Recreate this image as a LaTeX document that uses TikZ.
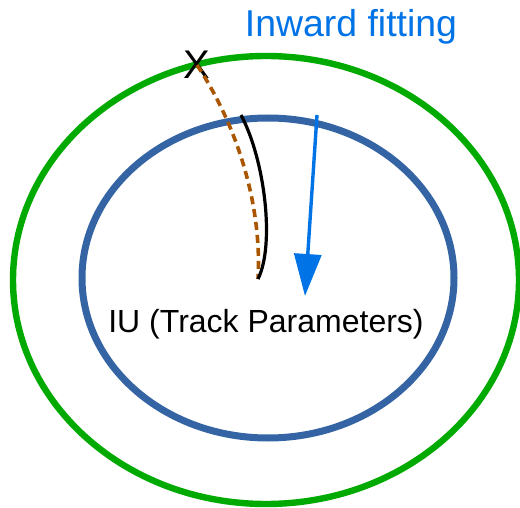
\documentclass[tikz,border=0pt]{standalone}
\usepackage{fontspec}
\setmainfont{Liberation Sans}
\usepackage{tikz}
\usetikzlibrary{arrows.meta}
\usepackage{xcolor}
\definecolor{mygreen}{RGB}{0,170,0}
\definecolor{myblue}{RGB}{52,100,164}
\definecolor{mylight}{RGB}{0,115,230}
\definecolor{mybrown}{RGB}{170,85,0}

\begin{document}
\begin{tikzpicture}[x=0.5pt,y=-0.5pt]
  \useasboundingbox (0,0) rectangle (520,508);
  % detector layers
  \draw[line width=3.2pt,mygreen] (266,280) ellipse [x radius=253, y radius=224];
  \draw[line width=3.5pt,myblue] (268,278) ellipse [x radius=186, y radius=160];

  % labels
  \node[mylight,font=\fontsize{18.7}{21}\selectfont] (title) at (351,27) {Inward fitting};
  \node[font=\fontsize{16}{18}\selectfont] (iu) at (266,324) {IU (Track Parameters)};

  % hit on outer layer
  \node[font=\fontsize{20}{22}\selectfont,inner sep=0pt] (hit) at (197,65) {X};
  \coordinate (start) at (258,279);
  \coordinate (top) at (241,115);

  % tracks
  \draw[line width=1.8pt,mybrown,dash pattern=on 4pt off 2.5pt] (hit.center) .. controls (240,130) and (262,210) .. (start);
  \draw[line width=1.6pt] (top) .. controls (265,160) and (275,245) .. (start);

  % direction
  \coordinate (from) at (317,115);
  \coordinate (to) at (305,296);
  \draw[line width=1.7pt,mylight,-{Triangle[width=13.5pt,length=21pt]}] (from) -- (to);
\end{tikzpicture}
\end{document}
